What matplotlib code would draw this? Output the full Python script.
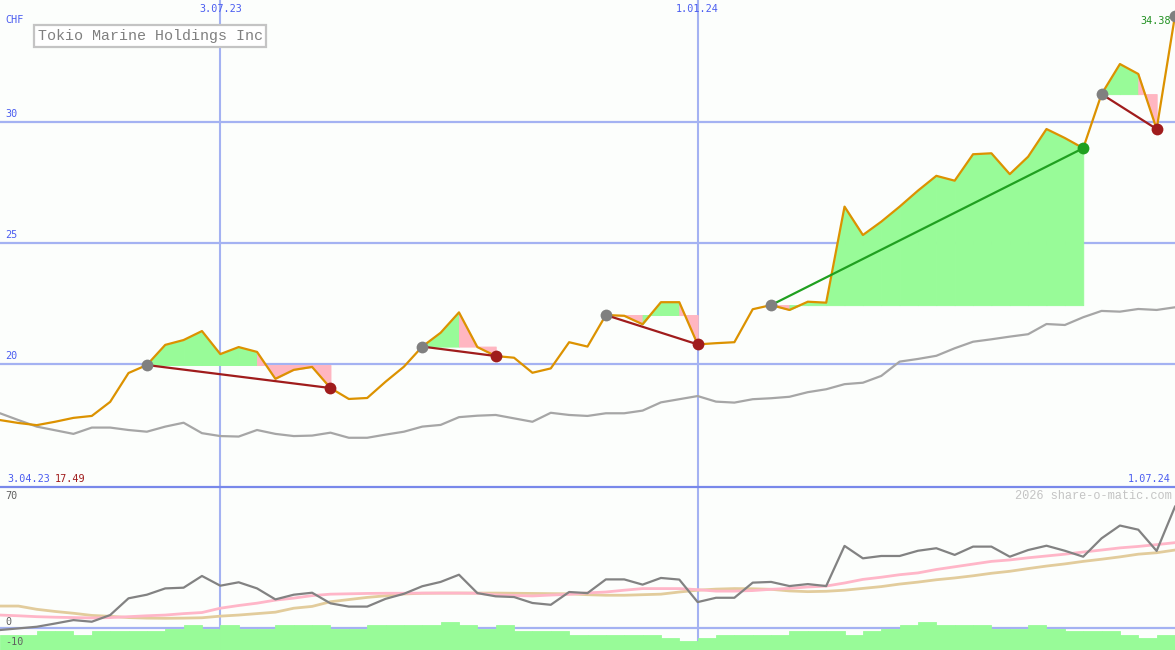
import matplotlib
matplotlib.use('Agg')
import matplotlib.pyplot as plt
import matplotlib.transforms as mtrans

# weekly closes (CHF), index 0 = first week
price = [17.70, 17.58, 17.49, 17.63, 17.79, 17.87, 18.45, 19.64, 19.97, 20.80,
         21.00, 21.37, 20.42, 20.71, 20.51, 19.40, 19.77, 19.89, 19.02, 18.57,
         18.61, 19.28, 19.90, 20.73, 21.30, 22.14, 20.71, 20.34, 20.27, 19.65,
         19.83, 20.91, 20.73, 22.03, 22.00, 21.65, 22.56, 22.56, 20.82, 20.87,
         20.91, 22.27, 22.44, 22.24, 22.58, 22.54, 26.50, 25.33, 25.88, 26.50,
         27.16, 27.77, 27.57, 28.66, 28.70, 27.84, 28.56, 29.70, 29.33, 28.91,
         31.14, 32.38, 31.97, 29.70, 34.38]

# grey comparison line
bench = [17.98, 17.70, 17.43, 17.28, 17.13, 17.39, 17.39, 17.29, 17.22, 17.43,
         17.59, 17.16, 17.04, 17.02, 17.29, 17.13, 17.04, 17.06, 17.18, 16.97,
         16.97, 17.10, 17.22, 17.43, 17.50, 17.82, 17.88, 17.91, 17.77, 17.63,
         18.00, 17.91, 17.87, 17.98, 17.98, 18.09, 18.43, 18.56, 18.69, 18.46,
         18.42, 18.56, 18.60, 18.66, 18.85, 18.97, 19.18, 19.24, 19.52, 20.11,
         20.22, 20.35, 20.66, 20.93, 21.03, 21.14, 21.24, 21.66, 21.62, 21.94,
         22.20, 22.17, 22.28, 22.24, 22.35]

# lower panel
osc = [-1.1, -0.2, 0.7, 2.5, 4.4, 3.5, 7.2, 16.5, 18.5, 22.0,
       22.4, 28.9, 23.5, 25.4, 22.0, 15.9, 18.5, 19.6, 13.7, 11.9,
       11.9, 16.2, 19.0, 23.2, 25.6, 29.6, 19.4, 17.6, 17.2, 13.9,
       12.9, 20.0, 19.4, 27.0, 27.0, 24.1, 27.8, 26.9, 14.4, 16.8,
       16.8, 25.2, 25.6, 23.3, 24.4, 23.3, 45.6, 38.7, 40.0, 40.0,
       42.9, 44.3, 40.6, 45.2, 45.2, 39.6, 43.3, 45.7, 42.9, 39.6,
       49.8, 56.9, 54.6, 42.8, 67.4]
osc_fast = [7.2, 6.8, 6.3, 6.0, 5.8, 5.6, 5.8, 6.3, 6.8, 7.2,
            8.0, 8.6, 11.0, 12.5, 13.8, 15.5, 16.6, 18.0, 18.8, 19.0,
            19.2, 19.3, 19.3, 19.4, 19.4, 19.4, 19.3, 18.4, 18.1, 17.8,
            18.3, 18.7, 19.5, 20.0, 21.0, 21.9, 21.9, 21.9, 21.3, 20.5,
            20.5, 20.8, 21.5, 22.0, 22.8, 23.3, 25.0, 27.0, 28.2, 29.6,
            30.6, 32.5, 34.0, 35.5, 37.0, 37.8, 39.0, 40.0, 41.0, 42.2,
            43.3, 44.5, 45.3, 46.3, 47.4]
osc_slow = [12.2, 12.2, 10.4, 9.2, 8.2, 7.0, 6.5, 5.8, 5.5, 5.4,
            5.5, 5.7, 6.6, 7.2, 8.0, 8.8, 11.0, 12.0, 14.6, 15.8,
            17.0, 17.9, 18.9, 19.3, 19.4, 19.4, 19.4, 19.4, 19.3, 19.2,
            19.1, 19.0, 18.5, 18.2, 18.2, 18.5, 18.8, 20.0, 21.0, 21.6,
            21.9, 21.8, 21.5, 20.6, 20.2, 20.4, 21.0, 22.0, 23.0, 24.4,
            25.5, 26.8, 27.8, 29.0, 30.4, 31.5, 33.0, 34.4, 35.6, 37.0,
            38.2, 39.5, 41.0, 41.8, 43.3]
bars = [-3.9, -3.9, -1.7, -1.7, -3.9, -1.7, -1.7, -1.7, -1.7, -0.3,
        1.7, -0.3, 1.7, -0.3, -0.3, 1.7, 1.7, 1.7, -0.3, -0.3,
        1.7, 1.7, 1.7, 1.7, 3.1, 1.7, -0.3, 1.7, -1.6, -1.6,
        -1.6, -3.8, -3.8, -3.8, -3.8, -3.8, -5.6, -7.1, -5.6, -3.8,
        -3.8, -3.8, -3.8, -1.7, -1.7, -1.7, -3.8, -1.7, -0.3, 1.7,
        3.1, 1.7, 1.7, 1.7, -0.3, -0.3, 1.7, -0.3, -1.7, -1.7,
        -1.7, -3.8, -5.4, -3.8]

# signals: (entry week, exit week)
trades = [(8, 18), (23, 27), (33, 38), (42, 59), (60, 63)]
open_signal = 64

date_lines = [12, 38]
date_labels = ['3.07.23', '1.01.24']
price_ticks = [20, 25, 30]
first_date, last_date = '3.04.23', '1.07.24'
title = 'Tokio Marine Holdings Inc'

BG = '#fcfefc'
GRID = '#a4b2f2'
BLUE = '#4a5cf0'
GREEN_FILL = '#98fb98'
PINK_FILL = '#ffb6c1'
DKRED = '#a01c1c'
GREEN = '#20a020'

W, H = 1175, 650
fig = plt.figure(figsize=(W / 100, H / 100), dpi=100, facecolor=BG)
ax = fig.add_axes([0, 1 - 487 / H, 1, 487 / H], facecolor=BG)
ax2 = fig.add_axes([0, 0, 1, 1 - 487 / H], facecolor=BG)

x = list(range(len(price)))
ax.set_xlim(0, 64)
ax.set_ylim(14.94, 35.02)
for a in (ax, ax2):
    for s in a.spines.values():
        s.set_visible(False)
    a.set_xticks([])
    a.set_yticks([])

for t in price_ticks:
    ax.axhline(t, color=GRID, lw=1.6, zorder=1)
for d in date_lines:
    ax.axvline(d, color=GRID, lw=1.5, zorder=1)
    ax2.axvline(d, color=GRID, lw=1.5, zorder=1)

# fills between price and entry level, one segment at a time
for s, e in trades:
    lvl = price[s]
    for i in range(s, e):
        col = GREEN_FILL if price[i + 1] >= lvl else PINK_FILL
        ax.fill_between(x[i:i + 2], [lvl, lvl], price[i:i + 2],
                        facecolor=col, edgecolor=col, lw=0.7, zorder=2)

ax.plot(x, bench, color='#a6a6a6', lw=1.6, zorder=3)
ax.plot(x, price, color='#dc9200', lw=1.6, zorder=4)

for s, e in trades:
    win = price[e] > price[s]
    col = GREEN if win else DKRED
    ax.plot([s, e], [price[s], price[e]], color=col, lw=1.6, zorder=5)
    ax.plot(s, price[s], 'o', color='#808080', ms=8.5, mew=0, zorder=6)
    ax.plot(e, price[e], 'o', color=col, ms=8.5, mew=0, zorder=6)
ax.plot(open_signal, price[open_signal], 'o', color='#808080', ms=8.5,
        mew=0, zorder=6)

# lower panel
ax2.set_xlim(0, 64)
ax2.set_ylim(-12.2, 78.3)
ax2.axhline(0, color=GRID, lw=1.6, zorder=1)
ax2.bar(x[:-1], [b + 12.2 for b in bars], bottom=-12.2, width=1.0,
        align='edge', facecolor=GREEN_FILL, edgecolor=GREEN_FILL, lw=0.6,
        zorder=2)
ax2.plot(x, osc_slow, color='#e2cc9c', lw=2.0, zorder=3)
ax2.plot(x, osc_fast, color='#ffb6c8', lw=2.0, zorder=3)
ax2.plot(x, osc, color='#828282', lw=1.6, zorder=4)
ax2.spines['top'].set_visible(True)
ax2.spines['top'].set_color('#7888ea')
ax2.spines['top'].set_linewidth(1.6)

MONO = 'DejaVu Sans Mono'


def ftext(px, py, s, **kw):
    kw.setdefault('family', MONO)
    kw.setdefault('fontsize', 7.3)
    fig.text(px / W, 1 - py / H, s, **kw)


ylab = mtrans.blended_transform_factory(ax.transAxes, ax.transData)
for t in price_ticks:
    ax.text(5 / W, t + 0.12, str(t), transform=ylab, color=BLUE,
            family=MONO, fontsize=7.3, va='bottom', ha='left')
ftext(5, 20, 'CHF', color=BLUE, va='center')
for d, lab in zip(date_lines, date_labels):
    xt = mtrans.blended_transform_factory(ax.transData, fig.transFigure)
    fig.text(d, 1 - 9 / H, lab, transform=xt, color=BLUE, family=MONO,
             fontsize=7.3, ha='center', va='center')
ftext(7, 479, first_date, color=BLUE, va='center')
ftext(55, 479, f'{min(price):.2f}', color=DKRED, va='center')
ftext(1171, 479, last_date, color=BLUE, va='center', ha='right')
ftext(1171, 21, f'{price[-1]:.2f}', color='#209020', va='center', ha='right')

ftext(150, 36, title, color='#808080', family='Liberation Mono',
      fontsize=10.8, ha='center', va='center',
      bbox=dict(boxstyle='square,pad=0.25', fc='white', ec='#c4c4c4', lw=1.6))
ftext(1172, 496, '2026 share-o-matic.com', color='#c4c4c4',
      family='Liberation Mono', fontsize=8.6, ha='right', va='center')

ftext(5, 496, '70', color='#606060', va='center')
ftext(5, 622, '0', color='#606060', va='center')
ftext(5, 642, '-10', color='#606060', va='center')

fig.savefig('out.png', dpi=100, facecolor=BG)
